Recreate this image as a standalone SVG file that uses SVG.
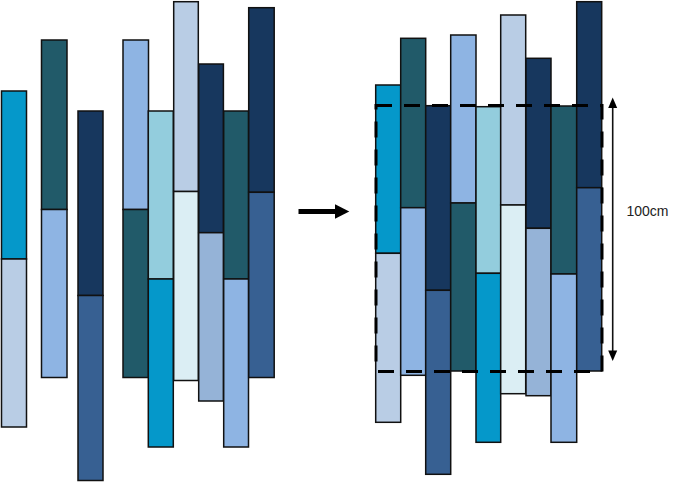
<svg xmlns="http://www.w3.org/2000/svg" width="699" height="482" viewBox="0 0 699 482">
<style>
rect.s{stroke:#111;stroke-width:1.5}
.c1{fill:#0598CA}.c2{fill:#B9CDE5}.c3{fill:#215A69}.c4{fill:#8EB4E3}.c5{fill:#17375E}.c6{fill:#376092}.c7{fill:#93CDDD}.c8{fill:#DBEEF4}.c9{fill:#95B3D7}
.lbl{font-family:"Liberation Sans",Arial,sans-serif;font-size:14px;fill:#222}
.head{fill:#000}
</style>
<rect width="699" height="482" fill="#fff"/>
<g id="left">
<g id="L1"><rect class="s c1" x="1.5" y="91" width="25" height="168"/><rect class="s c2" x="1.5" y="259" width="25" height="168"/></g>
<g id="L2"><rect class="s c3" x="41.5" y="40" width="25.5" height="169.5"/><rect class="s c4" x="41.5" y="209.5" width="25.5" height="168"/></g>
<g id="L3"><rect class="s c5" x="78" y="111" width="25" height="184.5"/><rect class="s c6" x="78" y="295.5" width="25" height="185"/></g>
<g id="L4"><rect class="s c4" x="123" y="40" width="25.5" height="169.5"/><rect class="s c3" x="123" y="209.5" width="25.5" height="168"/></g>
<g id="L5"><rect class="s c7" x="148.3" y="111" width="25" height="168"/><rect class="s c1" x="148.3" y="279" width="25" height="168"/></g>
<g id="L6"><rect class="s c2" x="173.7" y="1.7" width="24.6" height="189.8"/><rect class="s c8" x="173.7" y="191.5" width="24.6" height="189"/></g>
<g id="L7"><rect class="s c5" x="198.7" y="64" width="24.7" height="168.7"/><rect class="s c9" x="198.7" y="232.7" width="24.7" height="168.3"/></g>
<g id="L8"><rect class="s c3" x="223.7" y="111" width="24.8" height="168"/><rect class="s c4" x="223.7" y="279" width="24.8" height="168"/></g>
<g id="L9"><rect class="s c5" x="248.7" y="7.7" width="25.5" height="184.6"/><rect class="s c6" x="248.7" y="192.3" width="25.5" height="185.2"/></g>
</g>
<g id="right">
<g id="R1"><rect class="s c1" x="375.7" y="85" width="25" height="168.3"/><rect class="s c2" x="375.7" y="253.3" width="25" height="169"/></g>
<g id="R2"><rect class="s c3" x="400.7" y="38.3" width="25" height="169.4"/><rect class="s c4" x="400.7" y="207.7" width="25" height="167.6"/></g>
<g id="R3"><rect class="s c5" x="425.7" y="105.7" width="25" height="184.6"/><rect class="s c6" x="425.7" y="290.3" width="25" height="184"/></g>
<g id="R4"><rect class="s c4" x="450.7" y="35" width="25.3" height="168"/><rect class="s c3" x="450.7" y="203" width="25.3" height="168"/></g>
<g id="R5"><rect class="s c7" x="476" y="106.7" width="24.7" height="166.6"/><rect class="s c1" x="476" y="273.3" width="24.7" height="169"/></g>
<g id="R6"><rect class="s c2" x="500.7" y="15" width="25" height="190"/><rect class="s c8" x="500.7" y="205" width="25" height="188.7"/></g>
<g id="R7"><rect class="s c5" x="526" y="58.3" width="25" height="170"/><rect class="s c9" x="526" y="228.3" width="25" height="167.4"/></g>
<g id="R8"><rect class="s c3" x="551" y="106" width="25.7" height="168"/><rect class="s c4" x="551" y="274" width="25.7" height="168.3"/></g>
<g id="R9"><rect class="s c5" x="576.7" y="1.7" width="25" height="186"/><rect class="s c6" x="576.7" y="187.7" width="25" height="183.3"/></g>
</g>
<g id="frame"><rect x="376" y="105.5" width="226" height="266" fill="none" stroke="#000" stroke-width="3" stroke-dasharray="16 12"/></g>
<g id="connectors">
<line x1="298.5" y1="211.5" x2="336" y2="211.5" stroke="#000" stroke-width="4.8"/>
<path class="head" d="M335,204.3 L349.3,211.5 L335,218.8 Z"/>
<line x1="612.7" y1="107" x2="612.7" y2="352" stroke="#111" stroke-width="1.6"/>
<path class="head" d="M612.7,97.5 L617.2,108 L608.2,108 Z"/>
<path class="head" d="M612.7,361 L617.2,350.5 L608.2,350.5 Z"/>
</g>
<text class="lbl" x="626.5" y="216">100cm</text>
</svg>
